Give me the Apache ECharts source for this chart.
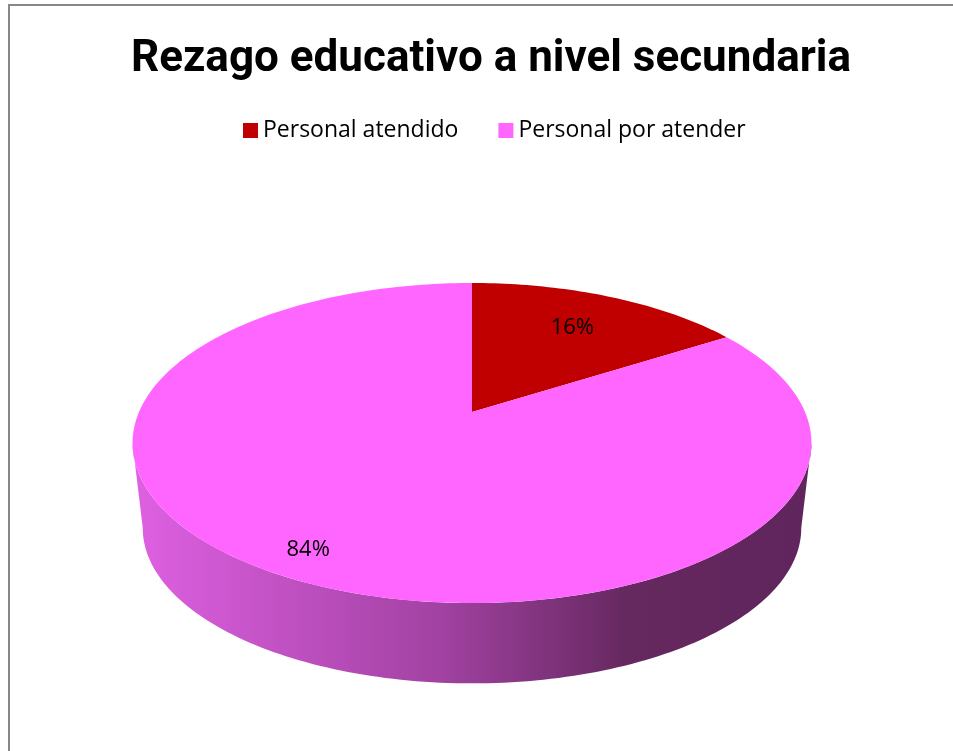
<!DOCTYPE html>
<html>
<head>
  <meta charset="utf-8">
  <title>Rezago educativo</title>
  <script src="https://cdn.jsdelivr.net/npm/echarts@6/dist/echarts.min.js"></script>
</head>
<body style="margin:0;background:#fff;">
<div id="main" style="width:953px;height:751px;"></div>
<script type="text/javascript">
  // data
  var categories = ['Personal atendido', 'Personal por atender'];
  var values = [16, 84];
  var percentLabels = ['16%', '84%'];
  var sliceColors = ['#c00000', '#ff66ff'];

  // 3D look: a tilted disk seen in perspective (Excel style)
  var cx = 472, cy = 412, A = 333, B = 154, k = 0.194;
  var cyBot = 498, ABot = 323, BBot = 149.4;
  var labelRadius = [0.7, 0.87];

  var total = values.reduce(function (s, v) { return s + v; }, 0);
  var starts = [];
  var acc = 0;
  values.forEach(function (v) { starts.push(acc); acc += v; });

  // theta: clockwise from 12 o'clock, radians
  function proj(theta, r, bottom) {
    var u = r * Math.sin(theta), v = r * Math.cos(theta);
    var d = 1 + k * v;
    if (bottom) return [cx + ABot * u / d, cyBot - BBot * v / d];
    return [cx + A * u / d, cy - B * v / d];
  }

  function arc(a0, a1, bottom) {
    var pts = [];
    var n = Math.max(8, Math.ceil((a1 - a0) / 0.02));
    for (var i = 0; i <= n; i++) {
      pts.push(proj(a0 + (a1 - a0) * i / n, 1, bottom));
    }
    return pts;
  }

  var sideFrom = Math.acos(-k), sideTo = 2 * Math.PI - Math.acos(-k);
  var sideGradient = new echarts.graphic.LinearGradient(135, 0, 812, 0, [
    { offset: 0, color: '#de60e2' },
    { offset: 0.45, color: '#a242a2' },
    { offset: 0.73, color: '#65285f' },
    { offset: 1, color: '#60255d' }
  ], true);

  function renderSlice(params, api) {
    var i = params.seriesIndex;
    var a0 = starts[i] / total * 2 * Math.PI;
    var a1 = (starts[i] + api.value(0)) / total * 2 * Math.PI;
    var children = [];

    // side wall (front part only)
    var s0 = Math.max(a0, sideFrom), s1 = Math.min(a1, sideTo);
    if (s1 > s0) {
      var pts = arc(s0, s1, false).concat(arc(s0, s1, true).reverse());
      children.push({
        type: 'polygon',
        shape: { points: pts },
        style: { fill: sideGradient, stroke: null }
      });
    }

    // top face
    var top = [[cx, cy]].concat(arc(a0, a1, false));
    children.push({
      type: 'polygon',
      shape: { points: top },
      style: { fill: api.visual('color'), stroke: null }
    });

    // label
    var mid = (a0 + a1) / 2;
    var lp = proj(mid, labelRadius[i], false);
    children.push({
      type: 'text',
      x: lp[0],
      y: lp[1],
      style: {
        text: percentLabels[i],
        fill: '#000',
        fontSize: 22,
        fontFamily: 'Open Sans',
        align: 'center',
        verticalAlign: 'middle'
      }
    });
    return { type: 'group', children: children };
  }

  var myChart = echarts.init(document.getElementById('main'));

  var option = {
    animation: false,
    color: sliceColors,
    title: {
      text: 'Rezago educativo a nivel secundaria',
      left: 126,
      top: 33,
      textStyle: {
        fontSize: 44,
        fontWeight: 'bold',
        fontFamily: 'Roboto',
        color: '#000'
      }
    },
    legend: {
      data: categories,
      top: 114,
      left: 238,
      icon: 'rect',
      itemWidth: 15,
      itemHeight: 15,
      itemGap: 40,
      textStyle: { fontSize: 23, fontFamily: 'Open Sans', color: '#000' }
    },
    graphic: [{
      type: 'rect',
      shape: { x: 9, y: 5, width: 1000, height: 1000 },
      style: { fill: null, stroke: '#878787', lineWidth: 2 },
      silent: true
    }],
    series: categories.map(function (name, i) {
      return {
        name: name,
        type: 'custom',
        coordinateSystem: 'none',
        renderItem: renderSlice,
        data: [[values[i]]]
      };
    })
  };

  myChart.setOption(option);
</script>
</body>
</html>
